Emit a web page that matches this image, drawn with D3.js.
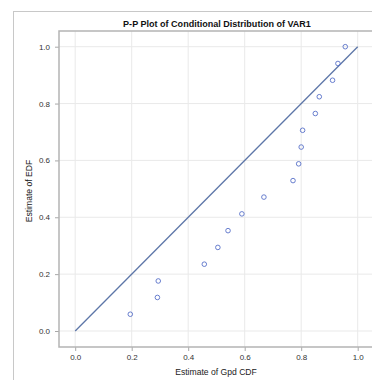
<!DOCTYPE html>
<html>
<head>
<meta charset="utf-8">
<script src="https://cdn.jsdelivr.net/npm/d3@7"></script>
<style>
  html, body { margin: 0; padding: 0; background: #fff; overflow: hidden; }
  svg { display: block; font-family: "Liberation Sans", Arial, sans-serif; }
</style>
</head>
<body>
<script>
// Theoretical (GPD) CDF estimates and empirical CDF estimates
const gpdCdf = [0.195, 0.291, 0.294, 0.457, 0.505, 0.541, 0.590, 0.668, 0.771, 0.791,
                0.800, 0.805, 0.850, 0.864, 0.911, 0.930, 0.956];
const edf    = [0.059, 0.118, 0.176, 0.235, 0.294, 0.353, 0.412, 0.471, 0.529, 0.588,
                0.647, 0.706, 0.765, 0.824, 0.882, 0.941, 1.000];
const refLine = [0, 1];
const xTicks = [0, 0.2, 0.4, 0.6, 0.8, 1.0];
const yTicks = [0, 0.2, 0.4, 0.6, 0.8, 1.0];
const titleText = "P-P Plot of Conditional Distribution of VAR1";
const xLabel = "Estimate of Gpd CDF";
const yLabel = "Estimate of EDF";

const W = 372, H = 380;
const svg = d3.select("body").append("svg").attr("width", W).attr("height", H);

// outer graph frame
svg.append("rect").attr("x", 13.5).attr("y", 11.5).attr("width", 400).attr("height", 400)
  .attr("fill", "#fff").attr("stroke", "#c8c8c8").attr("stroke-width", 1);

// plot area
const plot = { left: 59, top: 31, right: 390, bottom: 347 };
const x = d3.scaleLinear().domain([0, 1]).range([75.2, 357.7]);
const y = d3.scaleLinear().domain([0, 1]).range([331, 46.7]);

// title, sized to span a fixed width
const title = svg.append("text").attr("x", 217).attr("y", 26.5).attr("text-anchor", "middle")
  .attr("font-size", 9).attr("font-weight", "bold").attr("fill", "#111").text(titleText);
const tw = title.node().getComputedTextLength();
if (tw > 0) title.attr("font-size", 9 * 188 / tw);

// gridlines
const g = svg.append("g");
g.selectAll(".gx").data(xTicks).join("line")
  .attr("x1", d => x(d)).attr("x2", d => x(d)).attr("y1", plot.top).attr("y2", plot.bottom)
  .attr("stroke", "#e9e9e9").attr("stroke-width", 1);
g.selectAll(".gy").data(yTicks).join("line")
  .attr("y1", d => y(d)).attr("y2", d => y(d)).attr("x1", plot.left).attr("x2", plot.right)
  .attr("stroke", "#e9e9e9").attr("stroke-width", 1);

// axes
const fmt = d3.format(".1f");
const xAxis = svg.append("g").attr("transform", `translate(0,${plot.bottom})`)
  .call(d3.axisBottom(x).tickValues(xTicks).tickFormat(fmt).tickSize(4).tickPadding(3).tickSizeOuter(0));
const yAxis = svg.append("g").attr("transform", `translate(${plot.left},0)`)
  .call(d3.axisLeft(y).tickValues(yTicks).tickFormat(fmt).tickSize(4).tickPadding(5).tickSizeOuter(0));
[xAxis, yAxis].forEach(a => {
  a.select(".domain").remove();
  a.selectAll(".tick line").attr("stroke", "#a8a8a8");
  a.selectAll(".tick text").attr("fill", "#333").attr("font-size", 8)
    .attr("font-family", "Liberation Sans, Arial, sans-serif");
});

// plot frame (top, left, bottom)
svg.append("path")
  .attr("d", `M${plot.right},${plot.top}H${plot.left}V${plot.bottom}H${plot.right}`)
  .attr("fill", "none").attr("stroke", "#b4b4b4").attr("stroke-width", 1.5);

// axis labels
svg.append("text").attr("x", 216).attr("y", 374.5).attr("text-anchor", "middle")
  .attr("font-size", 8.6).attr("fill", "#222").text(xLabel);
svg.append("text").attr("transform", "translate(31.5,191) rotate(-90)").attr("text-anchor", "middle")
  .attr("font-size", 8.6).attr("fill", "#222").text(yLabel);

// reference line
svg.append("line")
  .attr("x1", x(refLine[0])).attr("y1", y(refLine[0]))
  .attr("x2", x(refLine[1])).attr("y2", y(refLine[1]))
  .attr("stroke", "#5d76a8").attr("stroke-width", 1.3);

// data markers
svg.selectAll(".pt").data(gpdCdf).join("circle")
  .attr("cx", d => x(d)).attr("cy", (d, i) => y(edf[i])).attr("r", 2.3)
  .attr("fill", "none").attr("stroke", "#5870c8").attr("stroke-width", 0.9);
</script>
</body>
</html>
